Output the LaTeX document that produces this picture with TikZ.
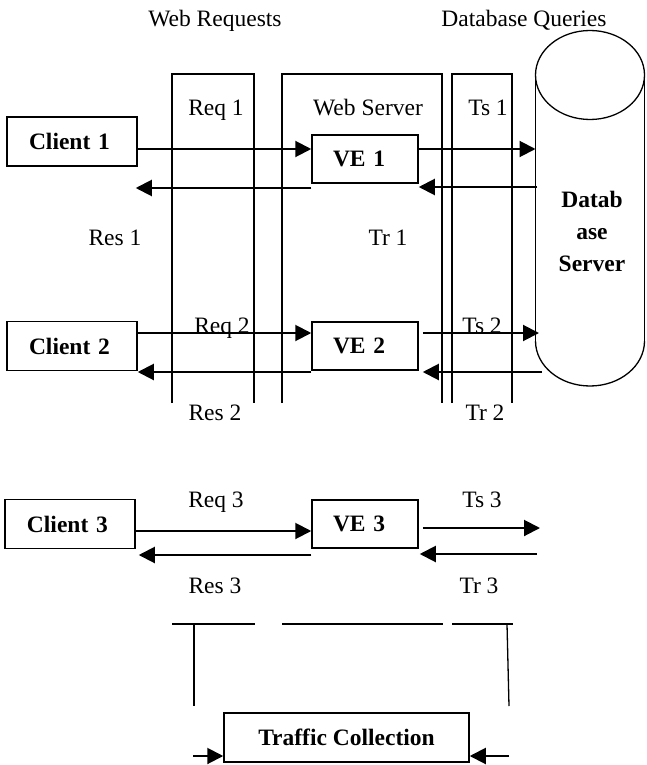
\documentclass[tikz,border=0pt]{standalone}
\usepackage{fontspec}
\setmainfont{Liberation Serif}
\usetikzlibrary{arrows.meta}
\begin{document}
\begin{tikzpicture}[x=1pt,y=-1pt,
  txt/.style={font=\fontsize{23.5}{28}\selectfont, inner sep=0pt, anchor=base},
  bx/.style={draw, line width=1.5pt, font=\fontsize{23.5}{28}\selectfont\bfseries, inner ysep=0pt, align=left},
  client/.style={bx, text width=86pt, inner xsep=22pt, minimum height=49pt},
  ve/.style={bx, text width=64pt, inner xsep=21pt, minimum height=48pt},
  arr/.style={line width=2pt, -{Triangle[length=16pt,width=16pt]}},
  frame/.style={line width=1.3pt},
]
\useasboundingbox (0,0) rectangle (646,765);

% column headings
\node[txt] (hweb) at (215,27) {Web Requests};
\node[txt] (hdb) at (524,27) {Database Queries};

% open-bottom frames
\draw[frame] (172,403) -- (172,74) -- (254,74) -- (254,403);
\draw[frame] (282,403) -- (282,74) -- (442,74) -- (442,403);
\draw[frame] (452,403) -- (452,74) -- (512,74) -- (512,403);

% database cylinder
\draw[frame] (590,75) ellipse [x radius=54.5, y radius=44.5];
\draw[frame] (535.5,75) -- (535.5,341);
\draw[frame] (644.5,75) -- (644.5,341);
\begin{scope}
  \clip (520,341) rectangle (660,400);
  \draw[frame] (590,341) ellipse [x radius=54.5, y radius=45];
\end{scope}
\coordinate (dbl) at (535.5,75);
\node[font=\fontsize{23.5}{32}\selectfont\bfseries, align=center, inner sep=0pt, anchor=base] (db) at (592,271) {Datab\\ase\\Server};

% clients and virtual environments
\node[client] (c1) at (72,141.5) {Client 1};
\node[client] (c2) at (72,346) {Client 2};
\node[client] (c3) at (70,524) {Client 3};
\node[ve] (ve1) at (365,159) {VE 1};
\node[ve] (ve2) at (365,346) {VE 2};
\node[ve] (ve3) at (365,524) {VE 3};

% frame labels
\node[txt] (lreq1) at (216,116) {Req 1};
\node[txt] (lweb) at (368,116) {Web Server};
\node[txt] (lts1) at (488,116) {Ts 1};
\node[txt] (lres1) at (115,245) {Res 1};
\node[txt] (ltr1) at (388,245) {Tr 1};
\node[txt] (lreq2) at (222,333) {Req 2};
\node[txt] (lts2) at (482,333) {Ts 2};
\node[txt] (lres2) at (215,420) {Res 2};
\node[txt] (ltr2) at (485,420) {Tr 2};
\node[txt] (lreq3) at (216,507) {Req 3};
\node[txt] (lts3) at (482,507) {Ts 3};
\node[txt] (lres3) at (215,593) {Res 3};
\node[txt] (ltr3) at (479,593) {Tr 3};

% row heights of the message arrows
\coordinate (f1) at (0,149);
\coordinate (b1) at (0,188);
\coordinate (g1) at (0,187);
\coordinate (f2) at (0,333);
\coordinate (b2) at (0,372);
\coordinate (f3) at (0,531);
\coordinate (b3) at (0,555);
\coordinate (s3) at (0,528);
\coordinate (t3) at (0,554);

% row 1
\draw[arr] (c1.east |- f1) -- (ve1.west |- f1);
\draw[arr] (ve1.west |- b1) -- ([xshift=-2pt]c1.east |- b1);
\draw[arr] (ve1.east |- f1) -- (dbl |- f1);
\draw[arr] ([xshift=1.5pt]dbl |- g1) -- (ve1.east |- g1);

% row 2
\draw[arr] (c2.east |- f2) -- (ve2.west |- f2);
\draw[arr] (ve2.west |- b2) -- (c2.east |- b2);
\draw[arr] ([xshift=4pt]ve2.east |- f2) -- ([xshift=3.5pt]dbl |- f2);
\draw[arr] ([xshift=6.5pt]dbl |- b2) -- ([xshift=4pt]ve2.east |- b2);

% row 3
\coordinate (ts3end) at (540,528);
\coordinate (tr3start) at (537,554);
\draw[arr] (c3.east |- f3) -- (ve3.west |- f3);
\draw[arr] (ve3.west |- b3) -- ([xshift=3pt]c3.east |- b3);
\draw[arr] ([xshift=4pt]ve3.east |- s3) -- (ts3end);
\draw[arr] (tr3start) -- ([xshift=1pt]ve3.east |- t3);

% traffic collection
\draw[frame] (172,624) -- (255,624);
\draw[frame] (282,624) -- (443,624);
\draw[frame] (452,624) -- (513,624);
\draw[frame] (194,624) -- (194,706);
\draw[frame] (507,624) -- (509,706);
\node[bx, align=center, minimum width=245pt, minimum height=49pt, inner xsep=0pt] (tc) at (346.5,737.5) {Traffic Collection};
\coordinate (tl) at (193,756);
\coordinate (tr) at (509,756);
\draw[arr] (tl) -- (tc.west |- tl);
\draw[arr] (tr) -- (tc.east |- tr);
\end{tikzpicture}
\end{document}
